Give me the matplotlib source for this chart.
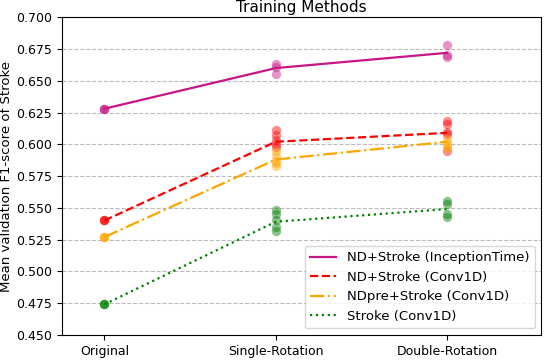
import matplotlib
matplotlib.use('Agg')
import matplotlib.pyplot as plt

methods = ['Original', 'Single-Rotation', 'Double-Rotation']

# mean values per training method
incep_mean = [0.628, 0.660, 0.672]
conv_mean = [0.540, 0.602, 0.609]
ndpre_mean = [0.527, 0.588, 0.602]
stroke_mean = [0.474, 0.539, 0.549]

# individual runs
incep_runs = [[0.628, 0.628, 0.628], [0.663, 0.661, 0.655], [0.678, 0.670, 0.669]]
conv_runs = [[0.540, 0.540, 0.540], [0.611, 0.607, 0.603, 0.600, 0.598], [0.618, 0.616, 0.610, 0.608, 0.595]]
ndpre_runs = [[0.527, 0.527, 0.527], [0.595, 0.591, 0.587, 0.585, 0.583], [0.604, 0.601, 0.599, 0.597]]
stroke_runs = [[0.474, 0.474, 0.474], [0.548, 0.545, 0.540, 0.535, 0.532], [0.555, 0.553, 0.545, 0.543]]

series = [
    ('ND+Stroke (InceptionTime)', incep_mean, incep_runs, 'mediumvioletred', '-'),
    ('ND+Stroke (Conv1D)', conv_mean, conv_runs, 'red', '--'),
    ('NDpre+Stroke (Conv1D)', ndpre_mean, ndpre_runs, 'orange', '-.'),
    ('Stroke (Conv1D)', stroke_mean, stroke_runs, 'green', ':'),
]

plt.rcParams['font.size'] = 9
fig, ax = plt.subplots(figsize=(5.5, 3.6), dpi=100)
x = list(range(len(methods)))

for label, mean, runs, color, ls in series:
    ax.plot(x, mean, color=color, linestyle=ls, linewidth=1.6, label=label)
    for i, r in enumerate(runs):
        ax.scatter([i] * len(r), r, color=color, alpha=0.45, s=45, zorder=3, linewidths=0)

ax.set_xticks(x)
ax.set_xticklabels(methods)
ax.set_xlim(-0.25, 2.55)
ax.set_ylim(0.45, 0.70)
ax.set_yticks([0.45 + 0.025 * k for k in range(11)])
ax.yaxis.grid(True, linestyle='--', color='#bbbbbb')
ax.set_axisbelow(True)
ax.set_title('Training Methods', fontsize=11, pad=4)
ax.set_ylabel('Mean validation F1-score of Stroke', fontsize=9.5, labelpad=2)
ax.legend(loc='lower right', fontsize=9.5)

plt.subplots_adjust(left=0.112, right=0.984, top=0.952, bottom=0.07)
plt.savefig('out.png')
